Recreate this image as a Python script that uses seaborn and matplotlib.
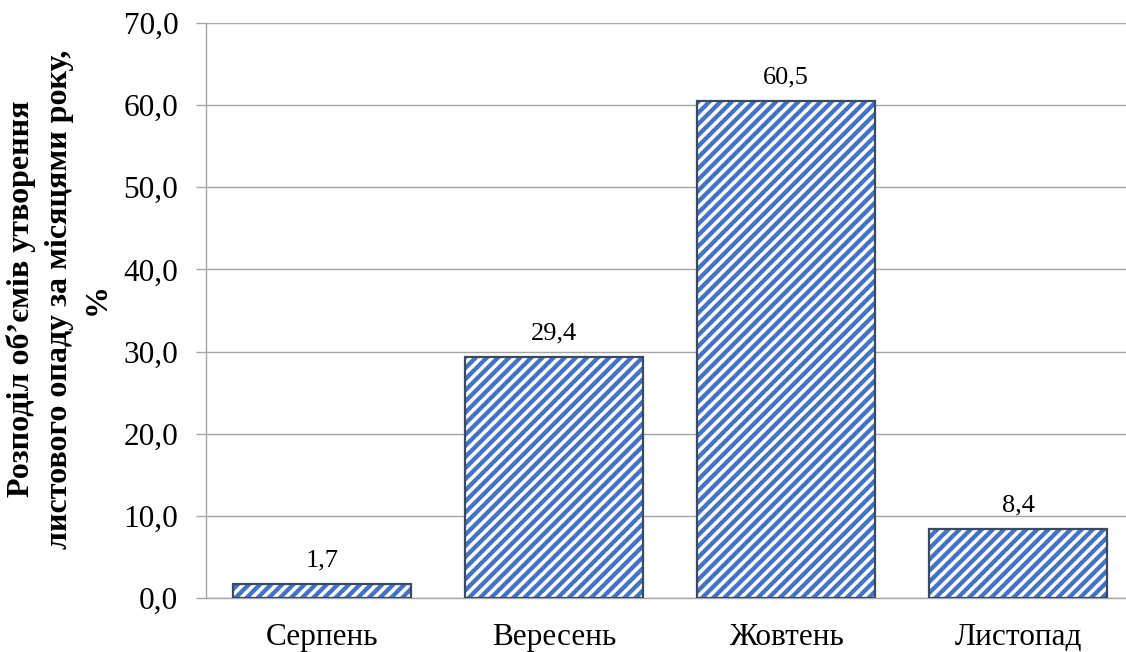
import matplotlib
matplotlib.use("Agg")
import matplotlib.pyplot as plt
import seaborn as sns
import pandas as pd

months = ["Серпень", "Вересень", "Жовтень", "Листопад"]
values = [1.7, 29.4, 60.5, 8.4]
yticks = [0, 10, 20, 30, 40, 50, 60, 70]
ylabel = "Розподіл об’ємів утворення\nлистового опаду за місяцями року,\n%"

sns.set_theme(style="white")
plt.rcParams['font.family'] = ['Liberation Serif', 'DejaVu Serif']
plt.rcParams['hatch.linewidth'] = 3.1

df = pd.DataFrame({"month": months, "value": values})

fig = plt.figure(figsize=(11.26, 6.52), dpi=100)
ax = fig.add_axes([206/1126, 1 - 598/652, (1134 - 206)/1126, (598 - 23)/652])

sns.barplot(data=df, x="month", y="value", color="white", edgecolor="#4472C4",
            linewidth=0, width=0.77, hatch="///", ax=ax, zorder=3)
sns.barplot(data=df, x="month", y="value", fill=False, edgecolor="#3A4A63",
            linewidth=1.6, width=0.77, ax=ax, zorder=4)

ax.set_ylim(0, 70)
ax.set_xlim(-0.5, 3.5)
ax.set_yticks(yticks)
ax.set_yticklabels([f"{t:.1f}".replace(".", ",") for t in yticks], fontsize=22.5, color="black")
ax.set_xticks(range(len(months)))
ax.set_xticklabels(months, fontsize=22.5, color="black")
ax.tick_params(axis="x", length=0, pad=18)
ax.tick_params(axis="y", length=7, width=1, color="#A6A6A6", direction="out", pad=13, left=True)
ax.grid(axis="y", color="#A6A6A6", linewidth=1, zorder=0)
ax.set_axisbelow(True)
for s in ["top", "right"]:
    ax.spines[s].set_visible(False)
for s in ["left", "bottom"]:
    ax.spines[s].set_color("#A6A6A6")
    ax.spines[s].set_linewidth(1)
ax.set_xlabel("")
ax.set_ylabel(ylabel, fontsize=23, fontweight="bold", linespacing=1.4, color="black")
ax.yaxis.set_label_coords((112 - 206) / 928, (598 - 299) / 575)

for i, v in enumerate(values):
    ax.annotate(f"{v:.1f}".replace(".", ","), (i, v), xytext=(0, 9),
                textcoords="offset points", ha="center", va="bottom", fontsize=19, color="black")

fig.savefig("out.png", dpi=100)
